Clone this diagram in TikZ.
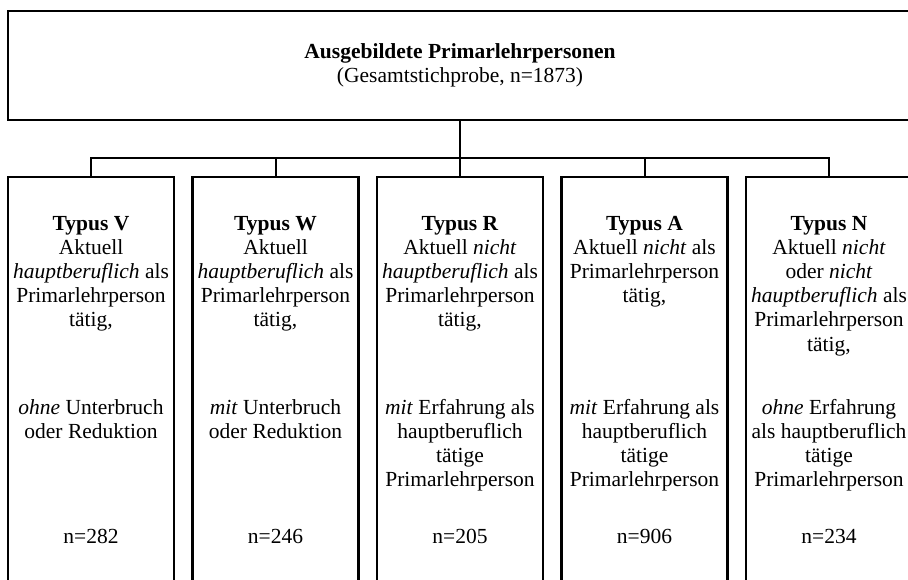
\documentclass[tikz,border=0pt]{standalone}
\usepackage{fontspec}
\setmainfont{Liberation Serif}
\begin{document}
\begin{tikzpicture}[x=1pt,y=-1pt,
  box/.style={draw,line width=2.2pt,minimum width=166pt,minimum height=440pt,anchor=north,inner sep=0pt},
  conn/.style={line width=2pt},
  txt/.style={align=center,font=\fontsize{21.5}{24.2}\selectfont,inner sep=0pt,anchor=base}]
\useasboundingbox (0,0) rectangle (908,579);
\clip (0,0) rectangle (908,579);
\node[draw,line width=2.2pt,minimum width=904pt,minimum height=109pt,inner sep=0pt,align=center,font=\fontsize{21.5}{24.2}\selectfont] (top) at (460,65.5)
  {\textbf{Ausgebildete Primarlehrpersonen}\\(Gesamtstichprobe, n=1873)};
\node[box] (b1) at (91,176) {};
\node[box] (b2) at (275.5,176) {};
\node[box] (b3) at (460,176) {};
\node[box] (b4) at (644.5,176) {};
\node[box] (b5) at (829,176) {};
\coordinate (bus) at (460,158);
\draw[conn] (top.south) -- (b3.north);
\draw[conn] (b1.north) |- (bus) -| (b5.north);
\draw[conn] (b2.north) -- (b2.north |- bus);
\draw[conn] (b4.north) -- (b4.north |- bus);
% box texts (anchor base = baseline of last line)
\node[txt] (t1) at (91,326.8) {\textbf{Typus V}\\Aktuell\\\textit{hauptberuflich} als\\Primarlehrperson\\tätig,};
\node[txt] (m1) at (91,438.2) {\textit{ohne} Unterbruch\\oder Reduktion};
\node[txt] (n1) at (91,543) {n=282};
\node[txt] (t2) at (275.5,326.8) {\textbf{Typus W}\\Aktuell\\\textit{hauptberuflich} als\\Primarlehrperson\\tätig,};
\node[txt] (m2) at (275.5,438.2) {\textit{mit} Unterbruch\\oder Reduktion};
\node[txt] (n2) at (275.5,543) {n=246};
\node[txt] (t3) at (460,326.8) {\textbf{Typus R}\\Aktuell \textit{nicht}\\\textit{hauptberuflich} als\\Primarlehrperson\\tätig,};
\node[txt] (m3) at (460,486.6) {\textit{mit} Erfahrung als\\hauptberuflich\\tätige\\Primarlehrperson};
\node[txt] (n3) at (460,543) {n=205};
\node[txt] (t4) at (644.5,302.6) {\textbf{Typus A}\\Aktuell \textit{nicht} als\\Primarlehrperson\\tätig,};
\node[txt] (m4) at (644.5,486.6) {\textit{mit} Erfahrung als\\hauptberuflich\\tätige\\Primarlehrperson};
\node[txt] (n4) at (644.5,543) {n=906};
\node[txt] (t5) at (829,351) {\textbf{Typus N}\\Aktuell \textit{nicht}\\oder \textit{nicht}\\\textit{hauptberuflich} als\\Primarlehrperson\\tätig,};
\node[txt] (m5) at (829,486.6) {\textit{ohne} Erfahrung\\als hauptberuflich\\tätige\\Primarlehrperson};
\node[txt] (n5) at (829,543) {n=234};
\end{tikzpicture}
\end{document}
